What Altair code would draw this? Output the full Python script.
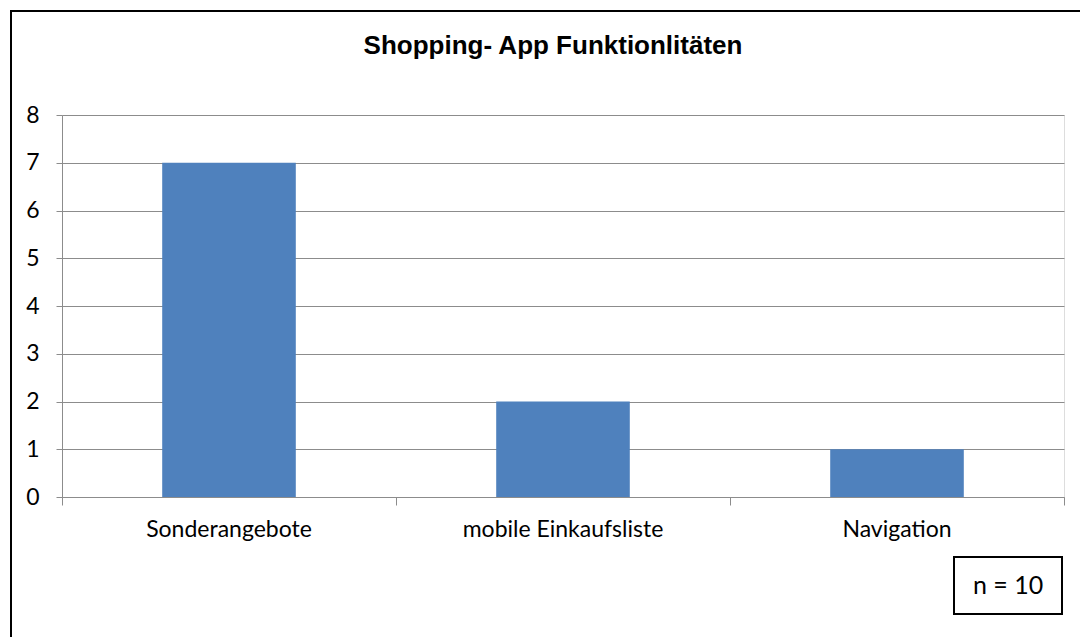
import altair as alt
import pandas as pd

categories = ["Sonderangebote", "mobile Einkaufsliste", "Navigation"]
counts = [7, 2, 1]
y_ticks = [0, 1, 2, 3, 4, 5, 6, 7, 8]
sample_note = "n = 10"
title_text = "Shopping- App Funktionlitäten"

# each category occupies one unit on a continuous x axis; bars fill 40 % of it
df = pd.DataFrame({"Funktion": categories, "Anzahl": counts})
df["mid"] = [i + 0.5 for i in range(len(categories))]
df["lo"] = df["mid"] - 0.2
df["hi"] = df["mid"] + 0.2

W, H = 1002, 382
LABEL_FONT = "Lato"
GRID = "#8c8c8c"

x_scale = alt.Scale(domain=[0, len(categories)], nice=False, zero=False, padding=0)

bars = alt.Chart(df).mark_bar(color="#4f81bd", orient="vertical").encode(
    x=alt.X(
        "lo:Q",
        scale=x_scale,
        axis=alt.Axis(
            title=None,
            values=list(range(len(categories) + 1)),
            labels=False,
            tickSize=8,
            tickColor=GRID,
            domainColor=GRID,
            grid=False,
        ),
    ),
    x2="hi:Q",
    y=alt.Y(
        "Anzahl:Q",
        scale=alt.Scale(domain=[0, 8], nice=False, padding=0),
        axis=alt.Axis(
            title=None,
            values=y_ticks,
            tickSize=6,
            tickColor=GRID,
            domainColor=GRID,
            gridColor=GRID,
            labelFont=LABEL_FONT,
            labelFontSize=23,
            labelColor="#000000",
            labelPadding=17,
        ),
    ),
    y2=alt.datum(0),
)

cat_labels = alt.Chart(df).mark_text(
    font=LABEL_FONT, fontSize=23, color="#000000", align="center", baseline="alphabetic"
).encode(
    x=alt.X("mid:Q", scale=x_scale),
    y=alt.value(422),
    text="Funktion:N",
)

one = alt.Data(values=[{"note": sample_note, "title": title_text}])

title = alt.Chart(one).mark_text(
    font="Liberation Sans", fontSize=26, fontWeight="bold", color="#000000",
    align="center", baseline="alphabetic",
).encode(x=alt.value(491), y=alt.value(-61), text="title:N")

# outer chart frame
frame = alt.Chart(one).mark_rect(
    fill=None, stroke="#000000", strokeWidth=2
).encode(
    x=alt.value(-51), x2=alt.value(1100),
    y=alt.value(-104), y2=alt.value(600),
)

# sample size box in the lower right corner
note_box = alt.Chart(one).mark_rect(
    fill="#ffffff", stroke="#000000", strokeWidth=2
).encode(
    x=alt.value(892), x2=alt.value(1000),
    y=alt.value(442), y2=alt.value(499),
)
note_text = alt.Chart(one).mark_text(
    font=LABEL_FONT, fontSize=25, color="#000000", align="center", baseline="middle"
).encode(
    x=alt.value(946), y=alt.value(471), text="note:N"
)

chart = alt.layer(bars, cat_labels, title, frame, note_box, note_text).properties(
    width=W,
    height=H,
    padding={"left": 62, "top": 115, "right": 16, "bottom": 140},
    autosize=alt.AutoSizeParams(type="none"),
).configure_view(stroke=None).configure(background="#ffffff")

chart.save("out.html", embed_options={"renderer": "svg", "actions": False})
